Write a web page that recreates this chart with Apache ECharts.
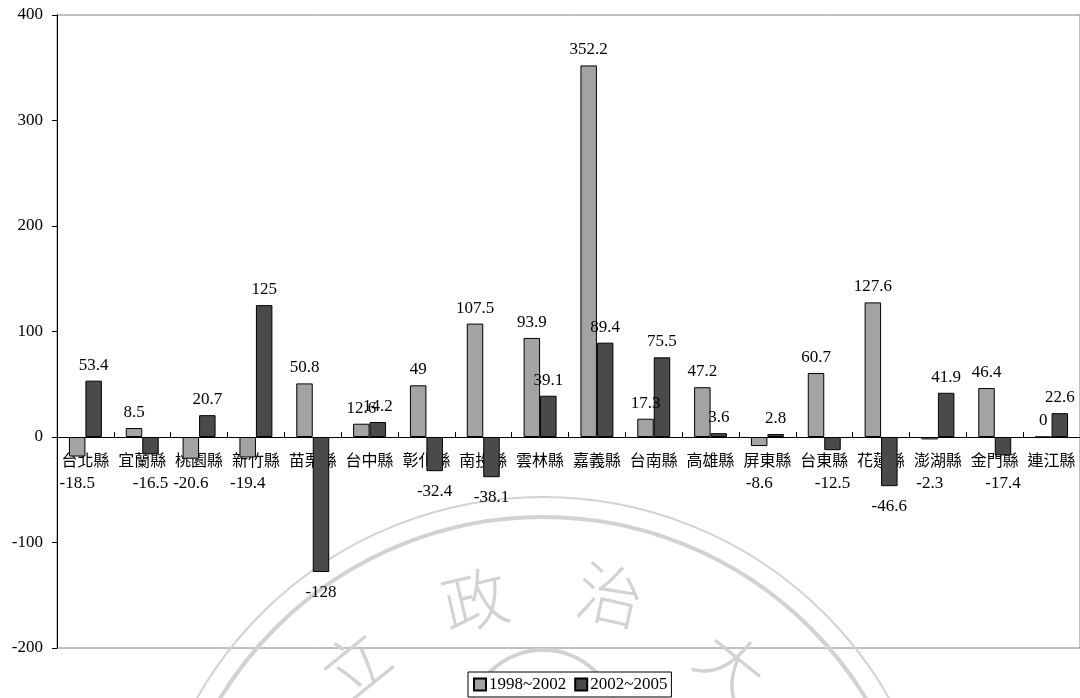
<!DOCTYPE html>
<html><head><meta charset="utf-8">
<script src="https://cdn.jsdelivr.net/npm/echarts@6/dist/echarts.min.js"></script>
<style>html,body{margin:0;padding:0;background:#fff}#c{width:1080px;height:698px}</style>
</head><body><div id="c"></div>
<script>
const categories = ['台北縣','宜蘭縣','桃園縣','新竹縣','苗栗縣','台中縣','彰化縣','南投縣','雲林縣','嘉義縣','台南縣','高雄縣','屏東縣','台東縣','花蓮縣','澎湖縣','金門縣','連江縣'];
const seriesNames = ['1998~2002','2002~2005'];
const values1998_2002 = [-18.5, 8.5, -20.6, -19.4, 50.8, 12.6, 49, 107.5, 93.9, 352.2, 17.3, 47.2, -8.6, 60.7, 127.6, -2.3, 46.4, 0];
const values2002_2005 = [53.4, -16.5, 20.7, 125, -128, 14.2, -32.4, -38.1, 39.1, 89.4, 75.5, 3.6, 2.8, -12.5, -46.6, 41.9, -17.4, 22.6];
const yMin = -200, yMax = 400, yInterval = 100;

const FONT = "'Liberation Serif', 'Noto Sans CJK TC', serif";
const gridLeft = 57, gridTop = 15, gridHeight = 633, gridWidth = 1030;
const pxPerUnit = gridHeight / (yMax - yMin);
const zeroY = gridTop + yMax * pxPerUnit;
const zeroOffset = gridTop + gridHeight - zeroY;

function toData(arr) {
  return arr.map(v => {
    if (v >= 0) return { value: v, label: { position: 'top', distance: 7 } };
    const end = zeroY - v * pxPerUnit;
    const center = Math.max(end + 20, 484);
    return { value: v, label: { position: 'bottom', distance: center - 8.5 - end } };
  });
}

const wmColor = '#d2d2d2';
const cx = 543, cy = 895;
function wmChar(ch, x, y, rot) {
  return { type: 'text', x: x, y: y, rotation: rot, z: 1, silent: true,
    style: { text: ch, fill: wmColor, font: '300 66px "Noto Sans CJK TC"', textAlign: 'center', textVerticalAlign: 'middle' } };
}

const chart = echarts.init(document.getElementById('c'), null, { renderer: 'canvas' });
chart.setOption({
  backgroundColor: '#fff',
  animation: false,
  textStyle: { fontFamily: FONT },
  grid: { left: gridLeft, top: gridTop, width: gridWidth, height: gridHeight, show: true, borderColor: '#808080', borderWidth: 1, backgroundColor: 'transparent' },
  legend: {
    data: seriesNames, left: 468, top: 672, orient: 'horizontal',
    icon: 'rect', itemWidth: 12, itemHeight: 12, itemGap: 8,
    padding: [4, 4, 4, 5], borderColor: '#000', borderWidth: 1, backgroundColor: '#fff',
    textStyle: { fontFamily: FONT, fontSize: 17, color: '#000', padding: [0, 0, 0, -2] }
  },
  xAxis: {
    type: 'category', data: categories, position: 'bottom', offset: -zeroOffset,
    axisLine: { onZero: false, lineStyle: { color: '#000', width: 1 } },
    axisTick: { show: true, inside: true, length: 5, lineStyle: { color: '#000' } },
    axisLabel: { interval: 0, margin: 17, fontFamily: FONT, fontSize: 16, color: '#000' },
    splitLine: { show: false }
  },
  yAxis: {
    type: 'value', min: yMin, max: yMax, interval: yInterval,
    axisLine: { show: true, lineStyle: { color: '#000', width: 1 } },
    axisTick: { show: true, length: 5, lineStyle: { color: '#000' } },
    axisLabel: { margin: 14, fontFamily: FONT, fontSize: 17, color: '#000' },
    splitLine: { show: false }
  },
  series: [
    { name: seriesNames[0], type: 'bar', data: toData(values1998_2002), barWidth: '29%', barGap: '0%',
      itemStyle: { color: '#a3a3a3', borderColor: '#000', borderWidth: 1 },
      label: { show: true, fontFamily: FONT, fontSize: 17, color: '#000' } },
    { name: seriesNames[1], type: 'bar', data: toData(values2002_2005), barWidth: '29%', barGap: '0%',
      itemStyle: { color: '#4a4a4a', borderColor: '#000', borderWidth: 1 },
      label: { show: true, fontFamily: FONT, fontSize: 17, color: '#000' } }
  ],
  graphic: [
    { type: 'circle', z: 1, silent: true, shape: { cx: cx, cy: cy, r: 398 }, style: { fill: 'none', stroke: wmColor, lineWidth: 2 } },
    { type: 'circle', z: 1, silent: true, shape: { cx: cx, cy: cy, r: 378 }, style: { fill: 'none', stroke: wmColor, lineWidth: 4 } },
    { type: 'circle', z: 1, silent: true, shape: { cx: 543, cy: 725, r: 75 }, style: { fill: 'none', stroke: wmColor, lineWidth: 4 } },
    wmChar('立', 355, 665, 0.68),
    wmChar('政', 475, 600, 0.23),
    wmChar('治', 610, 595, -0.22),
    wmChar('大', 732, 665, -0.68)
  ]
});
</script>
</body></html>
